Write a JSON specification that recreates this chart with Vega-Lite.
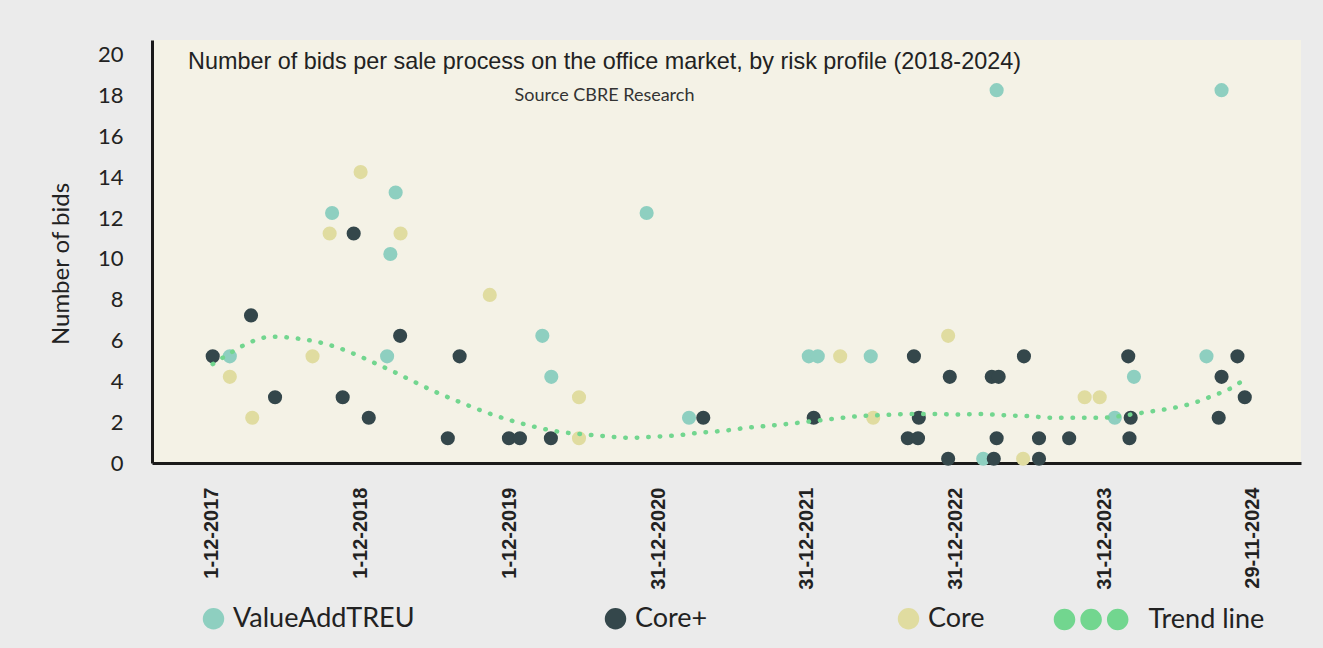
{
  "$schema": "https://vega.github.io/schema/vega-lite/v6.json",
  "width": 1149,
  "height": 423,
  "autosize": {"type": "none"},
  "padding": {"left": 152, "top": 40, "right": 22, "bottom": 185},
  "background": "#ebebeb",
  "title": {
    "text": "Number of bids per sale process on the office market, by risk profile (2018-2024)",
    "subtitle": "Source CBRE Research",
    "anchor": "middle",
    "frame": "group",
    "dx": -122,
    "offset": -66,
    "font": "Liberation Sans",
    "fontSize": 23.4,
    "fontWeight": "normal",
    "color": "#222222",
    "subtitleFont": "Lato",
    "subtitleFontSize": 18,
    "subtitleColor": "#333333",
    "subtitlePadding": 12.2
  },
  "config": {
    "view": {"fill": "#f4f2e6", "stroke": null},
    "axis": {"grid": false, "ticks": false, "tickSize": 0, "domainColor": "#1a1a1a", "domainWidth": 3}
  },
  "datasets": {
    "points": [
      {"date": "2017-12-03", "bids": 5, "series": "Core+"},
      {"date": "2018-01-14", "bids": 5, "series": "ValueAddTREU"},
      {"date": "2018-01-14", "bids": 4, "series": "Core"},
      {"date": "2018-03-07", "bids": 7, "series": "Core+"},
      {"date": "2018-03-10", "bids": 2, "series": "Core"},
      {"date": "2018-05-05", "bids": 3, "series": "Core+"},
      {"date": "2018-08-05", "bids": 5, "series": "Core"},
      {"date": "2018-09-16", "bids": 11, "series": "Core"},
      {"date": "2018-09-22", "bids": 12, "series": "ValueAddTREU"},
      {"date": "2018-10-18", "bids": 3, "series": "Core+"},
      {"date": "2018-11-14", "bids": 11, "series": "Core+"},
      {"date": "2018-12-01", "bids": 14, "series": "Core"},
      {"date": "2018-12-21", "bids": 2, "series": "Core+"},
      {"date": "2019-02-04", "bids": 5, "series": "ValueAddTREU"},
      {"date": "2019-02-12", "bids": 10, "series": "ValueAddTREU"},
      {"date": "2019-02-25", "bids": 13, "series": "ValueAddTREU"},
      {"date": "2019-03-08", "bids": 6, "series": "Core+"},
      {"date": "2019-03-09", "bids": 11, "series": "Core"},
      {"date": "2019-07-03", "bids": 1, "series": "Core+"},
      {"date": "2019-08-01", "bids": 5, "series": "Core+"},
      {"date": "2019-10-14", "bids": 8, "series": "Core"},
      {"date": "2019-11-30", "bids": 1, "series": "Core+"},
      {"date": "2019-12-27", "bids": 1, "series": "Core+"},
      {"date": "2020-02-20", "bids": 6, "series": "ValueAddTREU"},
      {"date": "2020-03-12", "bids": 1, "series": "Core+"},
      {"date": "2020-03-13", "bids": 4, "series": "ValueAddTREU"},
      {"date": "2020-05-20", "bids": 3, "series": "Core"},
      {"date": "2020-05-20", "bids": 1, "series": "Core"},
      {"date": "2020-11-02", "bids": 12, "series": "ValueAddTREU"},
      {"date": "2021-02-14", "bids": 2, "series": "ValueAddTREU"},
      {"date": "2021-03-21", "bids": 2, "series": "Core+"},
      {"date": "2021-12-05", "bids": 5, "series": "ValueAddTREU"},
      {"date": "2021-12-17", "bids": 2, "series": "Core+"},
      {"date": "2021-12-27", "bids": 5, "series": "ValueAddTREU"},
      {"date": "2022-02-20", "bids": 5, "series": "Core"},
      {"date": "2022-05-06", "bids": 5, "series": "ValueAddTREU"},
      {"date": "2022-05-12", "bids": 2, "series": "Core"},
      {"date": "2022-08-05", "bids": 1, "series": "Core+"},
      {"date": "2022-08-20", "bids": 5, "series": "Core+"},
      {"date": "2022-08-30", "bids": 1, "series": "Core+"},
      {"date": "2022-09-01", "bids": 2, "series": "Core+"},
      {"date": "2022-11-12", "bids": 6, "series": "Core"},
      {"date": "2022-11-12", "bids": 0, "series": "Core+"},
      {"date": "2022-11-16", "bids": 4, "series": "Core+"},
      {"date": "2023-02-06", "bids": 0, "series": "ValueAddTREU"},
      {"date": "2023-02-27", "bids": 4, "series": "Core+"},
      {"date": "2023-03-04", "bids": 0, "series": "Core+"},
      {"date": "2023-03-11", "bids": 18, "series": "ValueAddTREU"},
      {"date": "2023-03-11", "bids": 1, "series": "Core+"},
      {"date": "2023-03-16", "bids": 4, "series": "Core+"},
      {"date": "2023-05-15", "bids": 0, "series": "Core"},
      {"date": "2023-05-17", "bids": 5, "series": "Core+"},
      {"date": "2023-06-23", "bids": 1, "series": "Core+"},
      {"date": "2023-06-23", "bids": 0, "series": "Core+"},
      {"date": "2023-09-05", "bids": 1, "series": "Core+"},
      {"date": "2023-10-13", "bids": 3, "series": "Core"},
      {"date": "2023-11-19", "bids": 3, "series": "Core"},
      {"date": "2023-12-26", "bids": 2, "series": "ValueAddTREU"},
      {"date": "2024-01-28", "bids": 5, "series": "Core+"},
      {"date": "2024-01-31", "bids": 1, "series": "Core+"},
      {"date": "2024-02-03", "bids": 2, "series": "Core+"},
      {"date": "2024-02-11", "bids": 4, "series": "ValueAddTREU"},
      {"date": "2024-08-07", "bids": 5, "series": "ValueAddTREU"},
      {"date": "2024-09-06", "bids": 2, "series": "Core+"},
      {"date": "2024-09-13", "bids": 18, "series": "ValueAddTREU"},
      {"date": "2024-09-13", "bids": 4, "series": "Core+"},
      {"date": "2024-10-22", "bids": 5, "series": "Core+"},
      {"date": "2024-11-09", "bids": 3, "series": "Core+"}
    ],
    "trend": [
      {"date": "2017-12-03", "value": 4.62, "series": "Trend line"},
      {"date": "2018-01-19", "value": 5.21, "series": "Trend line"},
      {"date": "2018-03-04", "value": 5.68, "series": "Trend line"},
      {"date": "2018-04-27", "value": 5.96, "series": "Trend line"},
      {"date": "2018-06-25", "value": 5.88, "series": "Trend line"},
      {"date": "2018-08-16", "value": 5.71, "series": "Trend line"},
      {"date": "2018-10-04", "value": 5.44, "series": "Trend line"},
      {"date": "2018-11-22", "value": 5.06, "series": "Trend line"},
      {"date": "2019-01-10", "value": 4.62, "series": "Trend line"},
      {"date": "2019-02-23", "value": 4.22, "series": "Trend line"},
      {"date": "2019-04-11", "value": 3.76, "series": "Trend line"},
      {"date": "2019-05-27", "value": 3.32, "series": "Trend line"},
      {"date": "2019-07-16", "value": 2.9, "series": "Trend line"},
      {"date": "2019-09-05", "value": 2.49, "series": "Trend line"},
      {"date": "2019-10-24", "value": 2.13, "series": "Trend line"},
      {"date": "2019-12-17", "value": 1.8, "series": "Trend line"},
      {"date": "2020-02-07", "value": 1.53, "series": "Trend line"},
      {"date": "2020-04-03", "value": 1.31, "series": "Trend line"},
      {"date": "2020-05-27", "value": 1.2, "series": "Trend line"},
      {"date": "2020-07-23", "value": 1.1, "series": "Trend line"},
      {"date": "2020-09-20", "value": 1.02, "series": "Trend line"},
      {"date": "2020-11-17", "value": 1.07, "series": "Trend line"},
      {"date": "2021-01-15", "value": 1.14, "series": "Trend line"},
      {"date": "2021-03-13", "value": 1.27, "series": "Trend line"},
      {"date": "2021-05-08", "value": 1.36, "series": "Trend line"},
      {"date": "2021-07-06", "value": 1.51, "series": "Trend line"},
      {"date": "2021-08-29", "value": 1.61, "series": "Trend line"},
      {"date": "2021-10-25", "value": 1.72, "series": "Trend line"},
      {"date": "2021-12-20", "value": 1.85, "series": "Trend line"},
      {"date": "2022-02-12", "value": 1.97, "series": "Trend line"},
      {"date": "2022-04-10", "value": 2.08, "series": "Trend line"},
      {"date": "2022-06-05", "value": 2.13, "series": "Trend line"},
      {"date": "2022-08-03", "value": 2.18, "series": "Trend line"},
      {"date": "2022-10-03", "value": 2.18, "series": "Trend line"},
      {"date": "2022-12-04", "value": 2.16, "series": "Trend line"},
      {"date": "2023-01-29", "value": 2.18, "series": "Trend line"},
      {"date": "2023-04-01", "value": 2.12, "series": "Trend line"},
      {"date": "2023-05-27", "value": 2.08, "series": "Trend line"},
      {"date": "2023-07-27", "value": 2.0, "series": "Trend line"},
      {"date": "2023-09-24", "value": 2.0, "series": "Trend line"},
      {"date": "2023-11-25", "value": 2.0, "series": "Trend line"},
      {"date": "2024-01-25", "value": 2.13, "series": "Trend line"},
      {"date": "2024-03-17", "value": 2.29, "series": "Trend line"},
      {"date": "2024-05-12", "value": 2.46, "series": "Trend line"},
      {"date": "2024-07-03", "value": 2.7, "series": "Trend line"},
      {"date": "2024-08-21", "value": 3.06, "series": "Trend line"},
      {"date": "2024-10-09", "value": 3.48, "series": "Trend line"},
      {"date": "2024-10-31", "value": 3.76, "series": "Trend line"}
    ]
  },
  "layer": [
    {
      "data": {"name": "points"},
      "mark": {"type": "circle", "size": 200, "opacity": 1},
      "encoding": {
        "x": {
          "field": "date",
          "type": "temporal",
          "title": null,
          "scale": {
            "type": "utc",
            "domain": [
              {"year": 2017, "month": 7, "date": 7, "utc": true},
              {"year": 2025, "month": 3, "date": 27, "utc": true}
            ]
          },
          "axis": {
            "values": [
              {"year": 2017, "month": 12, "date": 1, "utc": true},
              {"year": 2018, "month": 12, "date": 1, "utc": true},
              {"year": 2019, "month": 12, "date": 1, "utc": true},
              {"year": 2020, "month": 11, "date": 30, "utc": true},
              {"year": 2021, "month": 11, "date": 30, "utc": true},
              {"year": 2022, "month": 11, "date": 30, "utc": true},
              {"year": 2023, "month": 11, "date": 30, "utc": true},
              {"year": 2024, "month": 11, "date": 29, "utc": true}
            ],
            "labelExpr": "utcyear(datum.value) >= 2020 && utcyear(datum.value) <= 2023 ? '31-12-' + utcyear(datum.value) : utcFormat(datum.value, '%-d-%m-%Y')",
            "labelAngle": 270,
            "labelFont": "Liberation Sans",
            "labelFontWeight": "bold",
            "labelFontSize": 20,
            "labelColor": "#222222",
            "labelPadding": 24,
            "labelOverlap": false,
            "labelFlush": false,
            "labelBound": false
          }
        },
        "y": {
          "field": "bids",
          "type": "quantitative",
          "title": "Number of bids",
          "scale": {"domain": [-0.21, 20.45], "nice": false, "zero": false},
          "axis": {
            "values": [0, 2, 4, 6, 8, 10, 12, 14, 16, 18, 20],
            "labelFont": "Lato",
            "labelFontSize": 22,
            "labelColor": "#222222",
            "labelPadding": 29,
            "labelOffset": 5,
            "titleFont": "Lato",
            "titleFontSize": 24,
            "titleFontWeight": "normal",
            "titleColor": "#222222",
            "titlePadding": 24,
            "titleY": 223.5
          }
        },
        "fill": {
          "field": "series",
          "type": "nominal",
          "scale": {
            "domain": ["ValueAddTREU", "Core+", "Core"],
            "range": ["#8ecfc0", "#34474b", "#e0dca0"]
          },
          "legend": {
            "title": null,
            "orient": "none",
            "legendX": 48,
            "legendY": 565,
            "direction": "horizontal",
            "columnPadding": 187,
            "padding": 0,
            "symbolType": "circle",
            "symbolSize": 460,
            "symbolStrokeWidth": 0,
            "labelFont": "Lato",
            "labelFontSize": 27,
            "labelColor": "#222222",
            "labelOffset": 6,
            "labelLimit": 400
          }
        }
      }
    },
    {
      "data": {"name": "trend"},
      "mark": {"type": "line", "interpolate": "monotone", "strokeWidth": 4.5, "strokeDash": [0.5, 11], "strokeCap": "round"},
      "encoding": {
        "x": {"field": "date", "type": "temporal", "title": null},
        "y": {"field": "value", "type": "quantitative", "title": "Number of bids", "scale": {"domain": [-0.21, 20.45], "nice": false, "zero": false}},
        "stroke": {
          "field": "series",
          "type": "nominal",
          "scale": {"domain": ["Trend line"], "range": ["#72d68f"]},
          "legend": {
            "title": null,
            "orient": "none",
            "legendX": 901.6,
            "legendY": 542,
            "padding": 0,
            "symbolType": "M-1,0a0.288,0.288 0 1,0 0.576,0a0.288,0.288 0 1,0 -0.576,0Z M-0.288,0a0.288,0.288 0 1,0 0.576,0a0.288,0.288 0 1,0 -0.576,0Z M0.424,0a0.288,0.288 0 1,0 0.576,0a0.288,0.288 0 1,0 -0.576,0Z",
            "symbolSize": 5580,
            "symbolFillColor": "#72d68f",
            "symbolStrokeWidth": 0,
            "labelFont": "Lato",
            "labelFontSize": 27,
            "labelColor": "#222222",
            "labelOffset": 20,
            "labelLimit": 400
          }
        }
      }
    }
  ]
}
